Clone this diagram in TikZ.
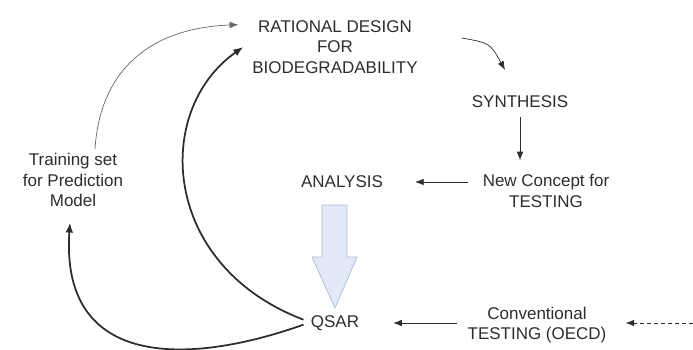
\documentclass[tikz,border=0pt]{standalone}
\usepackage{fontspec}
\setmainfont{Liberation Sans}
\usepackage{tikz}
\usetikzlibrary{arrows.meta,positioning,calc}
\usepackage{xcolor}
\definecolor{blockfill}{RGB}{226,234,247}
\definecolor{blockline}{RGB}{168,186,214}
\definecolor{inkgray}{RGB}{45,45,45}

\begin{document}
\begin{tikzpicture}[
    every node/.style={font=\fontsize{14.5}{17.5}\selectfont, align=center, text=inkgray},
    flow/.style={-{Latex[length=2.6mm,width=2mm]}, thick, inkgray},
    bigflow/.style={-{Latex[length=3mm,width=2.3mm]}, line width=1.5pt, inkgray},
    thinflow/.style={-{Latex[length=2.6mm,width=2mm]}, semithick, inkgray}]
    \useasboundingbox (0,0) rectangle (20.79,10.47);

    % Stages of the cycle
    \node (rational) at (10.05,9.06) {RATIONAL DESIGN\\FOR\\BIODEGRADABILITY};
    \node (synth) at (15.6,7.41) {SYNTHESIS};
    \node (newc) at (16.38,4.74) {New Concept for\\TESTING};
    \node (analysis) at (10.26,5.01) {ANALYSIS};
    \node (qsar) at (10.05,0.78) {QSAR};
    \node (conv) at (16.11,0.72) {Conventional\\TESTING (OECD)};
    \node (train) at (2.19,5.07) {Training set\\for Prediction\\Model};
    \coordinate (oecd) at (20.79,0.78);

    % Block arrow analysis -> QSAR
    \draw[fill=blockfill, draw=blockline, line width=0.6pt]
        (9.66,4.32) -- (10.41,4.32) -- (10.41,2.76) -- (10.71,2.76)
        -- (10.05,1.23) -- (9.36,2.76) -- (9.66,2.76) -- cycle;

    % Straight arrows
    \draw[thinflow] ($(rational.east)+(1.2,0.27)$) .. controls (14.7,9.18) .. ($(synth.north)+(-0.45,0.66)$);
    \draw[flow, shorten <=0.15cm, shorten >=0.3cm] (synth.south) -- (synth.south |- newc.north);
    \draw[flow, shorten <=0.33cm, shorten >=0.84cm] (analysis.east -| newc.west) -- (analysis.east);
    \draw[flow, shorten <=0.21cm, shorten >=0.9cm] (qsar.east -| conv.west) -- (qsar.east);
    \draw[flow, dashed, shorten >=0.45cm] (oecd) -- (qsar.east -| conv.east);

    % Feedback curves
    \draw[thinflow, black!60] ($(train.north)+(0.66,0)$) .. controls (3.0,8.37) and (4.5,9.63) .. ($(rational.north west)+(-0.3,-0.25)$);
    \draw[bigflow] ($(qsar.west)+(-0.1,0.1)$) .. controls (4.8,2.52) and (4.6,7.17) .. ($(rational.west)+(-0.15,0)$);
    \draw[bigflow] ($(qsar.west)+(-0.1,-0.05)$) .. controls (5.7,-0.48) and (1.8,-0.63) .. ($(train.south)+(-0.09,-0.35)$);
\end{tikzpicture}
\end{document}
